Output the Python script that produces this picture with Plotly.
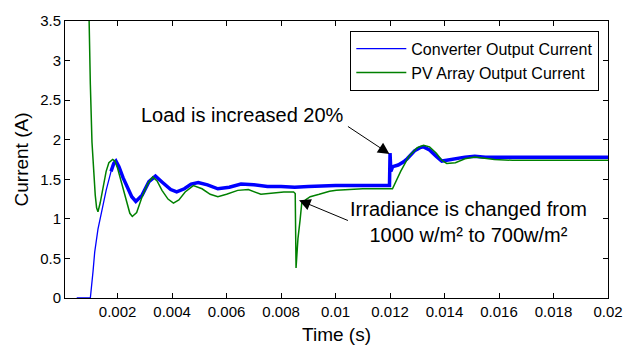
import plotly.graph_objects as go

# ---- data ----
t_conv = [0.00050, 0.00100, 0.00110, 0.00116, 0.00128, 0.00140, 0.00158, 0.00176, 0.00186, 0.00194,
          0.00205, 0.00220, 0.00236, 0.00252, 0.00267, 0.00290, 0.00315, 0.00339, 0.00365,
          0.00395, 0.00417, 0.00445, 0.00470, 0.00496, 0.00530, 0.00568, 0.00610, 0.00653, 0.00700,
          0.00750, 0.00800, 0.00850, 0.00900, 0.00950, 0.01000, 0.01050, 0.01100, 0.01150, 0.01198,
          0.01200, 0.01203, 0.01210, 0.01230, 0.01250, 0.01263, 0.01290, 0.01310,
          0.01323, 0.01345, 0.01370, 0.01390, 0.01408, 0.01440, 0.01475, 0.01511, 0.01550, 0.01600, 0.01700,
          0.01800, 0.01900, 0.02000]
i_conv = [0.00, 0.00, 0.34, 0.58, 0.87, 1.07, 1.36, 1.60, 1.70, 1.73,
          1.66, 1.52, 1.40, 1.28, 1.22, 1.30, 1.47, 1.54, 1.46,
          1.37, 1.34, 1.38, 1.44, 1.46, 1.43, 1.38, 1.40, 1.44, 1.43,
          1.41, 1.41, 1.40, 1.41, 1.42, 1.42, 1.42, 1.42, 1.42, 1.42,
          1.83, 1.60, 1.66, 1.68, 1.72, 1.76, 1.86, 1.90,
          1.91, 1.87, 1.79, 1.73, 1.74, 1.76, 1.78, 1.79, 1.78, 1.78, 1.78,
          1.78, 1.78, 1.78]

t_pv = [0.00090, 0.00095, 0.00100, 0.00106, 0.00112, 0.00118, 0.00123, 0.00128, 0.00136,
        0.00146, 0.00158, 0.00168, 0.00176, 0.00182, 0.00190, 0.00200, 0.00215, 0.00230, 0.00245, 0.00254,
        0.00270, 0.00290, 0.00310, 0.00329, 0.00345, 0.00363, 0.00385, 0.00405, 0.00425, 0.00448,
        0.00478, 0.00510, 0.00540, 0.00568, 0.00600, 0.00641, 0.00680, 0.00726, 0.00774, 0.00810,
        0.00846, 0.00852, 0.00855, 0.00862, 0.00870, 0.00876, 0.00890, 0.00907, 0.00940, 0.00978,
        0.01003, 0.01050, 0.01100, 0.01150, 0.01209, 0.01239, 0.01269, 0.01300, 0.01323,
        0.01345, 0.01370, 0.01390, 0.01408, 0.01440, 0.01475, 0.01511, 0.01550, 0.01583, 0.01650,
        0.01750, 0.01850, 0.02000]
i_pv = [4.50, 3.50, 2.70, 1.97, 1.60, 1.30, 1.14, 1.09, 1.20,
        1.38, 1.60, 1.71, 1.74, 1.75, 1.73, 1.64, 1.45, 1.24, 1.07, 1.03,
        1.08, 1.28, 1.44, 1.53, 1.48, 1.36, 1.25, 1.20, 1.24, 1.34,
        1.42, 1.38, 1.31, 1.28, 1.31, 1.36, 1.37, 1.31, 1.33, 1.34,
        1.34, 1.32, 0.38, 0.75, 0.99, 1.20, 1.24, 1.28, 1.31, 1.35,
        1.36, 1.37, 1.38, 1.38, 1.38, 1.60, 1.79, 1.90, 1.93,
        1.91, 1.83, 1.74, 1.70, 1.71, 1.76, 1.78, 1.76, 1.75, 1.74,
        1.74, 1.74, 1.74]

x_ticks = [0.002, 0.004, 0.006, 0.008, 0.01, 0.012, 0.014, 0.016, 0.018, 0.02]
x_tick_text = ["0.002", "0.004", "0.006", "0.008", "0.01", "0.012", "0.014", "0.016", "0.018", "0.02"]
y_ticks = [0, 0.5, 1, 1.5, 2, 2.5, 3, 3.5]
y_tick_text = ["0", "0.5", "1", "1.5", "2", "2.5", "3", "3.5"]

FONT = "Arial, Liberation Sans, Helvetica, sans-serif"
BLUE = "#0000ff"
GREEN = "#008000"

# index where the converter current becomes a noisy thick band
band_start = t_conv.index(0.00176)

fig = go.Figure()
fig.add_trace(go.Scatter(x=t_conv[band_start:], y=i_conv[band_start:], mode="lines",
                         line=dict(color=BLUE, width=3.5), showlegend=False, hoverinfo="skip"))
fig.add_trace(go.Scatter(x=t_conv, y=i_conv, mode="lines", name="Converter Output Current",
                         line=dict(color=BLUE, width=1.3)))
fig.add_trace(go.Scatter(x=t_pv, y=i_pv, mode="lines", name="PV Array Output Current",
                         line=dict(color=GREEN, width=1.5)))

ann_font = dict(family=FONT, size=20, color="black")
fig.add_annotation(x=0.00659, y=2.317, xref="x", yref="y", text="Load is increased 20%",
                   showarrow=False, font=ann_font)
fig.add_annotation(x=0.01198, y=1.82, xref="x", yref="y", ax=0.0104, ay=2.18, axref="x", ayref="y",
                   text="", showarrow=True, arrowhead=2, arrowsize=2.3, arrowwidth=1, arrowcolor="black")
fig.add_annotation(x=0.01489, y=0.961, xref="x", yref="y",
                   text="Irradiance is changed from<br>1000 w/m² to 700w/m²",
                   showarrow=False, font=ann_font, align="center")
fig.add_annotation(x=0.00866, y=1.236, xref="x", yref="y", ax=0.01051, ay=0.971, axref="x", ayref="y",
                   text="", showarrow=True, arrowhead=2, arrowsize=2.3, arrowwidth=1, arrowcolor="black")

axis_common = dict(showgrid=False, zeroline=False, showline=True, linecolor="black", linewidth=1,
                   mirror="ticks", ticks="inside", ticklen=5, tickcolor="black",
                   tickfont=dict(family=FONT, size=15, color="black"))

fig.update_xaxes(range=[0.00007, 0.02], tickvals=x_ticks, ticktext=x_tick_text,
                 title=dict(text="Time (s)", font=dict(family=FONT, size=19, color="black"), standoff=8),
                 **axis_common)
fig.update_yaxes(range=[0, 3.5], tickvals=y_ticks, ticktext=y_tick_text,
                 title=dict(text="Current (A)", font=dict(family=FONT, size=19, color="black"), standoff=6),
                 **axis_common)

fig.update_layout(
    width=635, height=353,
    margin=dict(l=65, r=19, t=15, b=52),
    paper_bgcolor="white", plot_bgcolor="white",
    font=dict(family=FONT, color="black"),
    legend=dict(x=0.984, y=0.965, xanchor="right", yanchor="top",
                bordercolor="black", borderwidth=1, bgcolor="white",
                font=dict(family=FONT, size=16, color="black"), itemwidth=50,
                tracegroupgap=0),
)

fig.write_html("out.html")
